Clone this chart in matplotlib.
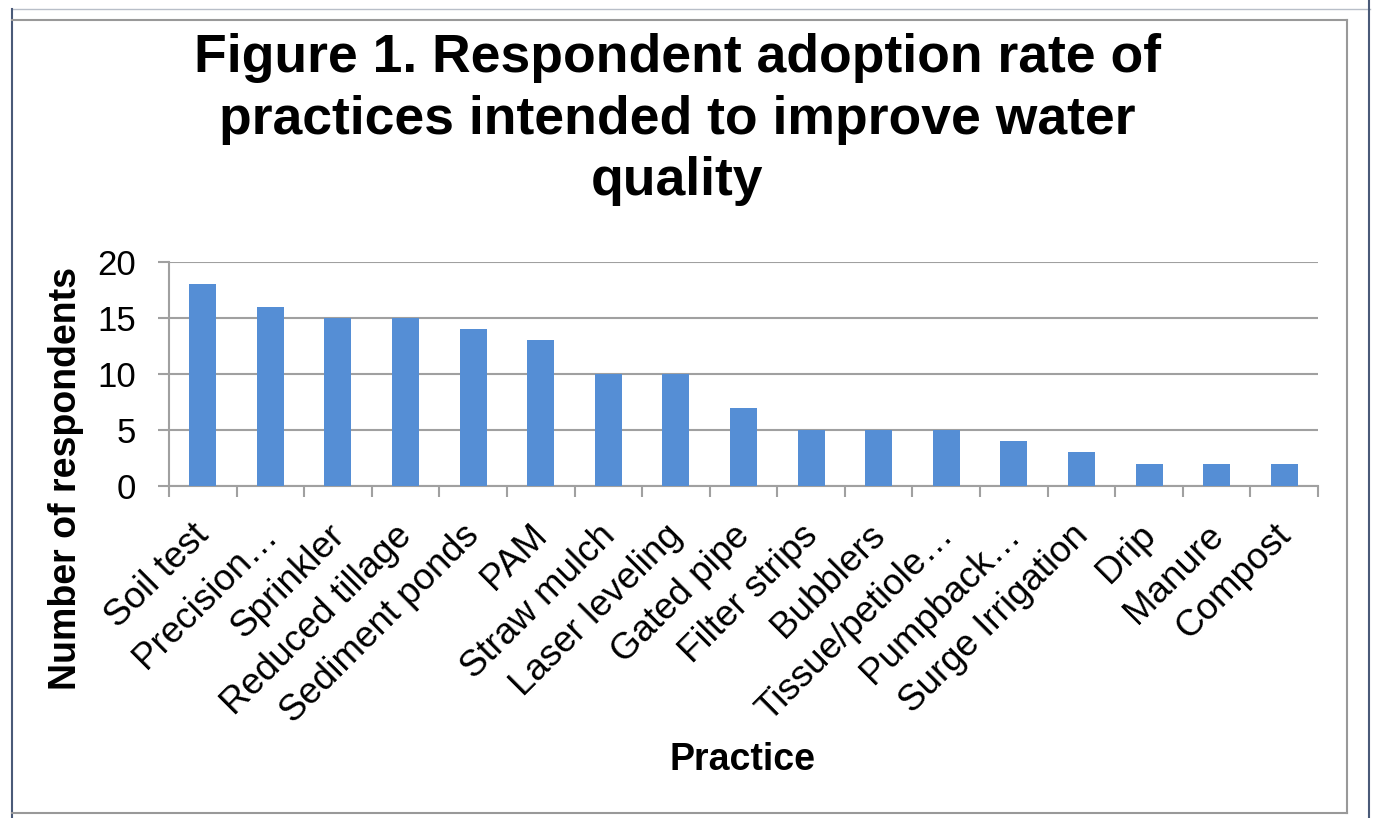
import matplotlib
matplotlib.use("Agg")
import matplotlib.pyplot as plt
from matplotlib.lines import Line2D
import numpy as np

categories = ["Soil test", "Precision…", "Sprinkler", "Reduced tillage", "Sediment ponds",
              "PAM", "Straw mulch", "Laser leveling", "Gated pipe", "Filter strips",
              "Bubblers", "Tissue/petiole…", "Pumpback…", "Surge Irrigation", "Drip",
              "Manure", "Compost"]
values = [18, 16, 15, 15, 14, 13, 10, 10, 7, 5, 5, 5, 4, 3, 2, 2, 2]
yticks = [0, 5, 10, 15, 20]

plt.rcParams['font.family'] = ['Liberation Sans', 'DejaVu Sans']

W, H = 1375, 818
fig = plt.figure(figsize=(W / 100, H / 100), dpi=100)

def fx(px):
    return px / W

def fy(py):
    return 1 - py / H

ax = fig.add_axes([fx(169), fy(486), fx(1318) - fx(169), fy(262) - fy(486)])
x = np.arange(len(categories))
ax.bar(x, values, width=0.4, color='#558ED5', zorder=3)
ax.set_xlim(-0.5, len(categories) - 0.5)
ax.set_ylim(0, 20)

grid_c = '#A0A0A0'
ax.set_yticks(yticks)
ax.set_yticklabels([str(v) for v in yticks], fontsize=25)
ax.yaxis.grid(True, color=grid_c, linewidth=1.5, zorder=0)
ax.tick_params(axis='y', length=8, width=1.5, color=grid_c, pad=16)

ax.set_xticks(x)
ax.set_xticklabels([])
ax.set_xticks(np.arange(-0.5, len(categories), 1.0), minor=True)
ax.tick_params(axis='x', which='major', length=0)
ax.tick_params(axis='x', which='minor', length=8, width=1.5, color=grid_c)

for s in ['top', 'right']:
    ax.spines[s].set_visible(False)
for s in ['left', 'bottom']:
    ax.spines[s].set_color(grid_c)
    ax.spines[s].set_linewidth(1.5)

for xi, lab in zip(x, categories):
    ax.annotate(lab, xy=(xi, 0), xycoords='data', xytext=(-8, -23), textcoords='offset points',
                rotation=45, ha='right', va='top', rotation_mode='anchor', fontsize=26.5,
                annotation_clip=False)

fig.text(fx(677), fy(33), "Figure 1. Respondent adoption rate of\npractices intended to improve water\nquality",
         ha='center', va='top', fontsize=38.5, fontweight='bold', linespacing=1.3)
fig.text(fx(66), fy(479), "Number of respondents", rotation=90, ha='center', va='center',
         fontsize=27, fontweight='bold')
fig.text(fx(743), fy(760), "Practice", ha='center', va='center', fontsize=27, fontweight='bold')

# frames
lines = [
    ((12, 1370), (9, 9), '#B8BEC8', 1.0),
    ((12, 12), (9, 818), '#4A5A78', 1.5),
    ((1369, 1369), (0, 818), '#4A5A78', 1.5),
    ((12, 1347), (20, 20), '#999999', 1.5),
    ((1347, 1347), (20, 813), '#999999', 1.5),
    ((12, 1347), (813, 813), '#999999', 1.5),
]
for xs, ys, c, lw in lines:
    fig.add_artist(Line2D([fx(v) for v in xs], [fy(v) for v in ys], color=c, linewidth=lw,
                          transform=fig.transFigure))

fig.savefig("out.png", dpi=100)
